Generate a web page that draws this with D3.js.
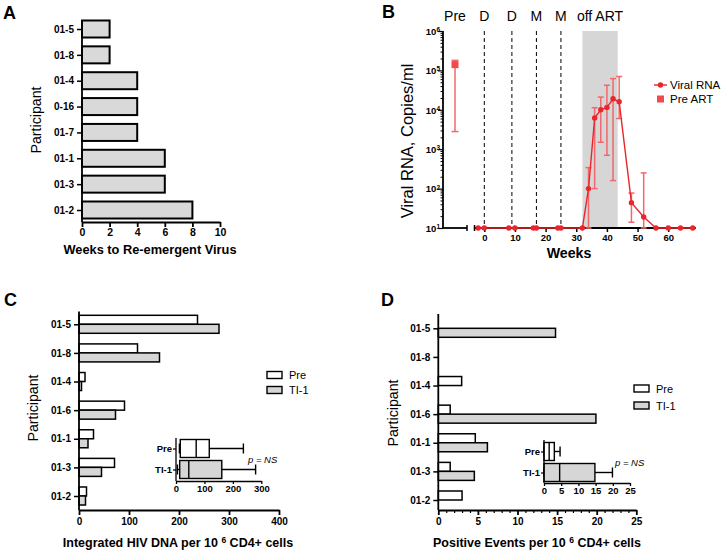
<!DOCTYPE html>
<html><head><meta charset="utf-8">
<script src="https://cdn.jsdelivr.net/npm/d3@7"></script>
<style>
body{margin:0;background:#fff}
svg{display:block}
text{font-family:"Liberation Sans",Arial,Helvetica,sans-serif;fill:#000}
</style>
</head><body>
<svg id="chart" width="723" height="555"></svg>
<script>
// ---------------- DATA ----------------
// Panel A
const participantsA = ["01-5","01-8","01-4","0-16","01-7","01-1","01-3","01-2"];
const weeksToRebound = [2,2,4,4,4,6,6,8];
const ticksA = [0,2,4,6,8,10];

// Panel B
const rnaWeeks = [-2,0,8,10,16,17,24,25,32,34,36,38,40,42,44,48,52,56,60,64,68];
const rnaMean  = [10,10,10,10,10,10,10,10,10,100,6200,10000,11500,19000,16000,44,19,10,10,10,10];
const rnaUpper = [null,null,null,null,null,null,null,null,null,340,11300,21000,42000,62000,70000,77,250,null,null,null,null];
const rnaLower = [null,null,null,null,null,null,null,null,null,10,100,1500,700,160,6000,14,10,null,null,null,null];
const preArtMean = 140000, preArtUpper = 180000, preArtLower = 2800;
const drugWeeks = [0,9,17,25];
const drugLabels = ["D","D","M","M"];
const offArt = [32,43.5];
const ticksBx = [0,10,20,30,40,50,60];
const decadesB = [1,2,3,4,5,6];

// Panels C and D
const participantsCD = ["01-5","01-8","01-4","01-6","01-1","01-3","01-2"];
const dnaPre = [237,117,12,91,29,71,15];
const dnaTI1 = [280,161,5,73,18,45,13];
const eventsPre = [0,0,2.95,1.5,4.67,1.5,3.0];
const eventsTI1 = [14.8,0,0,19.9,6.2,4.55,0];
const ticksC = [0,100,200,300,400];
const ticksCinset = [0,100,200,300];
const ticksD = [0,5,10,15,20,25];
const ticksDinset = [0,5,10,15,20,25];
const groups = ["Pre","TI-1"];

// ---------------- HELPERS ----------------
const svg = d3.select("#chart");
const RED = "#e8262b", RED_ERR = "#f0686b";
const GRAY = "#d6d6d6";

function styleAxis(g, fs, lw){
  g.attr("font-family", null).attr("font-size", null);
  g.selectAll("path.domain").attr("stroke","#000").attr("stroke-width", lw||1.6);
  g.selectAll(".tick line").attr("stroke","#000").attr("stroke-width", lw||1.5);
  g.selectAll(".tick text").attr("font-weight","bold").attr("font-size", fs||10).attr("fill","#000");
}
function vline(g,x,y1,y2,w,col){ g.append("line").attr("x1",x).attr("x2",x).attr("y1",y1).attr("y2",y2).attr("stroke",col||"#000").attr("stroke-width",w||1.6); }
function hline(g,y,x1,x2,w,col){ g.append("line").attr("x1",x1).attr("x2",x2).attr("y1",y).attr("y2",y).attr("stroke",col||"#000").attr("stroke-width",w||1.6); }
function panelLetter(t,x,y){ svg.append("text").attr("x",x).attr("y",y).attr("font-size",18).attr("font-weight","bold").text(t); }
function vertTitle(t,x,y,fs){ svg.append("text").attr("transform",`translate(${x},${y}) rotate(-90)`).attr("text-anchor","middle").attr("font-size",fs).text(t); }
function prismQ(s,q){ const n=s.length,pos=q*(n+1),lo=Math.floor(pos),hi=Math.ceil(pos);
  if(lo<1) return s[0]; if(hi>n) return s[n-1]; return s[lo-1]+(s[hi-1]-s[lo-1])*(pos-lo); }

// ---------------- PANEL A ----------------
{
  const g = svg.append("g");
  const x = d3.scaleLinear().domain([0,10]).range([82,220]);
  const y = d3.scalePoint().domain(participantsA).range([29,210]);
  const yTop = 20, yBot = 222;
  g.selectAll("rect").data(participantsA).join("rect")
    .attr("x", x(0)).attr("y", d=>y(d)-8.5)
    .attr("width",(d,i)=>x(weeksToRebound[i])-x(0)).attr("height",17)
    .attr("fill","#d9d9d9").attr("stroke","#000").attr("stroke-width",2);
  const ay = g.append("g").attr("transform",`translate(${x(0)},0)`).call(d3.axisLeft(y).tickSize(5).tickPadding(3));
  ay.select(".domain").remove(); styleAxis(ay,10);
  vline(g,x(0),yTop,yBot,1.8);
  const ax = g.append("g").attr("transform",`translate(0,${yBot})`).call(d3.axisBottom(x).tickValues(ticksA).tickSize(5).tickSizeOuter(0).tickPadding(2));
  styleAxis(ax,10.5,1.8);
  svg.append("text").attr("x",150).attr("y",254).attr("text-anchor","middle").attr("font-size",12.8).attr("font-weight","bold").text("Weeks to Re-emergent Virus");
  vertTitle("Participant",41,120,14.2);
  panelLetter("A",3,19);
}

// ---------------- PANEL B ----------------
{
  const g = svg.append("g");
  const x = d3.scaleLinear().domain([-3.2,69]).range([474.5,695.8]);
  const xPre = d3.scalePoint().domain(["Pre"]).range([443,467]).padding(0.5);
  const y = d3.scaleLog().domain([10,1e6]).range([228,31]);
  const yBot = y(10), yTop = y(1e6);
  // shaded off-ART region
  g.append("rect").attr("x",x(offArt[0])).attr("y",yTop).attr("width",x(offArt[1])-x(offArt[0])).attr("height",yBot-yTop).attr("fill",GRAY);
  // dashed drug lines
  drugWeeks.forEach((w,i)=>{
    g.append("line").attr("x1",x(w)).attr("x2",x(w)).attr("y1",yTop).attr("y2",yBot)
      .attr("stroke","#000").attr("stroke-width",1).attr("stroke-dasharray","4,3");
    svg.append("text").attr("x",x(w)).attr("y",21).attr("text-anchor","middle").attr("font-size",14).text(drugLabels[i]);
  });
  svg.append("text").attr("x",xPre("Pre")).attr("y",21).attr("text-anchor","middle").attr("font-size",14).text("Pre");
  svg.append("text").attr("x",(x(offArt[0])+x(offArt[1]))/2).attr("y",21).attr("text-anchor","middle").attr("font-size",14).text("off ART");
  // y axis
  const tv = [];
  for(let e=1;e<6;e++) for(let m=1;m<10;m++) tv.push(m*Math.pow(10,e));
  tv.push(1e6);
  const ay = g.append("g").attr("transform",`translate(443,0)`)
    .call(d3.axisLeft(y).tickValues(tv).tickSize(5).tickPadding(2).tickFormat(d=>""));
  styleAxis(ay,9.5,1.2);
  ay.select(".domain").remove();
  ay.selectAll(".tick").each(function(d){
    const e = Math.log10(d), major = Math.abs(e-Math.round(e))<1e-9;
    const t = d3.select(this);
    if(!major){ t.select("line").attr("x2",-2.5).attr("stroke-width",1); }
    else {
      const txt = t.select("text").attr("font-weight","bold").attr("font-size",9.5).attr("x",-3).attr("dy","0.35em");
      txt.text(null);
      txt.append("tspan").text("10");
      txt.append("tspan").attr("font-size",6.5).attr("dy","-0.45em").text(String(Math.round(e)));
    }
  });
  vline(g,443,yTop,yBot,1.8);
  // x axis: pre segment + break + main
  hline(g,yBot,443,467,1.8);
  vline(g,467,yBot-3,yBot+3,1.5);
  vline(g,x(-3.2),yBot-3,yBot+3,1.5);
  hline(g,yBot,x(-3.2),x(69),1.8);
  const ax = g.append("g").attr("transform",`translate(0,${yBot})`)
    .call(d3.axisBottom(x).tickValues(ticksBx).tickSize(4).tickSizeOuter(0).tickPadding(2));
  ax.select(".domain").remove(); styleAxis(ax,9.5,1.5);
  // error bars
  const eb = g.append("g");
  rnaWeeks.forEach((w,i)=>{
    if(rnaUpper[i]==null) return;
    const cx = x(w);
    vline(eb,cx,y(rnaUpper[i]),y(rnaLower[i]),1.5,RED_ERR);
    hline(eb,y(rnaUpper[i]),cx-3,cx+3,1.5,RED_ERR);
    hline(eb,y(rnaLower[i]),cx-3,cx+3,1.5,RED_ERR);
  });
  // line
  const pts = rnaWeeks.map((w,i)=>({w, v:rnaMean[i]}));
  g.append("path").datum(pts).attr("fill","none").attr("stroke",RED).attr("stroke-width",1.4)
    .attr("d", d3.line().x(d=>x(d.w)).y(d=>y(d.v)));
  g.selectAll("circle.pt").data(pts).join("circle").attr("class","pt")
    .attr("cx",d=>x(d.w)).attr("cy",d=>y(d.v)).attr("r",2.7).attr("fill",RED);
  // pre ART
  const px = xPre("Pre");
  vline(g,px,y(preArtUpper),y(preArtLower),1.5,RED_ERR);
  hline(g,y(preArtUpper),px-3.5,px+3.5,1.5,RED_ERR);
  hline(g,y(preArtLower),px-3.5,px+3.5,1.5,RED_ERR);
  g.append("rect").attr("x",px-3.5).attr("y",y(preArtMean)-3.5).attr("width",7).attr("height",7).attr("fill","#ef4b4f");
  // legend
  hline(g,85,654,667,1.4,RED);
  g.append("circle").attr("cx",660.5).attr("cy",85).attr("r",2.7).attr("fill",RED);
  svg.append("text").attr("x",670).attr("y",89).attr("font-size",11.5).text("Viral RNA");
  g.append("rect").attr("x",657).attr("y",95.5).attr("width",7).attr("height",7).attr("fill","#ef4b4f");
  svg.append("text").attr("x",670).attr("y",103).attr("font-size",11.5).text("Pre ART");
  // titles
  svg.append("text").attr("x",569).attr("y",258).attr("text-anchor","middle").attr("font-size",14.2).attr("font-weight","bold").text("Weeks");
  vertTitle("Viral RNA, Copies/ml",413,141,16.5);
  panelLetter("B",382,18);
}

// ---------------- PANELS C & D ----------------
function groupedPanel(o){
  const g = svg.append("g");
  const x = d3.scaleLinear().domain(o.xDomain).range(o.xRange);
  const y = d3.scalePoint().domain(participantsCD).range(o.yRange);
  const x0 = x(0);
  // bars
  participantsCD.forEach((p,i)=>{
    g.append("rect").attr("x",x0).attr("y",y(p)-9).attr("width",x(o.pre[i])-x0).attr("height",9)
      .attr("fill","#fff").attr("stroke","#000").attr("stroke-width",1.5);
    g.append("rect").attr("x",x0).attr("y",y(p)).attr("width",x(o.ti[i])-x0).attr("height",9)
      .attr("fill",GRAY).attr("stroke","#000").attr("stroke-width",1.5);
  });
  const ay = g.append("g").attr("transform",`translate(${x0},0)`).call(d3.axisLeft(y).tickSize(5).tickPadding(3));
  ay.select(".domain").remove(); styleAxis(ay,10);
  vline(g,x0,o.axisTop,o.axisBot,1.8);
  const ax = g.append("g").attr("transform",`translate(0,${o.axisBot})`)
    .call(d3.axisBottom(x).tickValues(o.ticks).tickSize(5).tickSizeOuter(0).tickPadding(3));
  styleAxis(ax,10,1.8);
  if(o.minor){
    const mg = g.append("g").attr("transform",`translate(0,${o.axisBot})`)
      .call(d3.axisBottom(x).tickValues(d3.range(o.xDomain[0],o.xDomain[1]+1,1).filter(v=>v%5!==0)).tickSize(3).tickSizeOuter(0).tickFormat(""));
    mg.select(".domain").remove(); styleAxis(mg,10,1.2);
  }
  // inset box plot
  const ix = d3.scaleLinear().domain(o.insetDomain).range(o.insetRange);
  const iy = d3.scalePoint().domain(groups).range(o.insetRows);
  const ig = g.append("g");
  [o.pre,o.ti].forEach((vals,k)=>{
    const s = vals.slice().sort((a,b)=>a-b);
    const mn=s[0], mx=s[s.length-1], q1=prismQ(s,0.25), md=prismQ(s,0.5), q3=prismQ(s,0.75);
    const cy = iy(groups[k]), h = o.boxH;
    hline(ig,cy,ix(mn),ix(q1),1.4); hline(ig,cy,ix(q3),ix(mx),1.4);
    vline(ig,ix(mn),cy-5,cy+5,1.4); vline(ig,ix(mx),cy-5,cy+5,1.4);
    ig.append("rect").attr("x",ix(q1)).attr("y",cy-h/2).attr("width",ix(q3)-ix(q1)).attr("height",h)
      .attr("fill",k===0?"#fff":GRAY).attr("stroke","#000").attr("stroke-width",1.4);
    vline(ig,ix(md),cy-h/2,cy+h/2,1.4);
  });
  const iay = ig.append("g").attr("transform",`translate(${o.insetRange[0]},0)`).call(d3.axisLeft(iy).tickSize(3).tickPadding(1));
  iay.select(".domain").remove(); styleAxis(iay,9.5,1.2);
  vline(ig,o.insetRange[0],o.insetTop,o.insetBot,1.3);
  const iax = ig.append("g").attr("transform",`translate(0,${o.insetBot})`)
    .call(d3.axisBottom(ix).tickValues(o.insetTicks).tickSize(3).tickSizeOuter(0).tickPadding(1));
  styleAxis(iax,9.5,1.3);
  svg.append("text").attr("x",o.pX).attr("y",o.pY).attr("font-size",9.5).attr("font-style","italic").text("p = NS");
  // legend
  groups.forEach((gname,k)=>{
    const cy = o.legY[k];
    g.append("rect").attr("x",o.legX).attr("y",cy-3.5).attr("width",15).attr("height",7)
      .attr("fill",k===0?"#fff":GRAY).attr("stroke","#000").attr("stroke-width",1.4);
    svg.append("text").attr("x",o.legX+22).attr("y",cy+4).attr("font-size",11).text(gname);
  });
  // titles
  const t = svg.append("text").attr("x",o.titleX).attr("y",547).attr("text-anchor","middle").attr("font-size",12.5).attr("font-weight","bold");
  t.append("tspan").text(o.title + " per 10 ");
  t.append("tspan").attr("font-size",8.5).attr("dy","-0.5em").text("6");
  t.append("tspan").attr("dy","0.35em").text(" CD4+ cells");
  vertTitle("Participant",o.partX,o.partY,14.2);
  panelLetter(o.letter,o.letterX,306);
}

groupedPanel({
  letter:"C", letterX:4, pre:dnaPre, ti:dnaTI1,
  xDomain:[0,400], xRange:[79,279], yRange:[324.3,496], axisTop:311.5, axisBot:510, ticks:ticksC, minor:false,
  insetDomain:[0,300], insetRange:[176,261.3], insetRows:[448.5,469.5], insetTop:438, insetBot:481, insetTicks:ticksCinset, boxH:18,
  pX:248, pY:463, legX:267, legY:[375,390],
  title:"Integrated HIV DNA", titleX:178, partX:38, partY:408
});
groupedPanel({
  letter:"D", letterX:381, pre:eventsPre, ti:eventsTI1,
  xDomain:[0,25], xRange:[438.3,636.3], yRange:[328.3,500], axisTop:314, axisBot:510, ticks:ticksD, minor:true,
  insetDomain:[0,25], insetRange:[544,630], insetRows:[451.5,472.5], insetTop:440, insetBot:483, insetTicks:ticksDinset, boxH:18,
  pX:615, pY:466, legX:634, legY:[388.5,405.5],
  title:"Positive Events", titleX:537, partX:398, partY:413
});
</script>
</body></html>
